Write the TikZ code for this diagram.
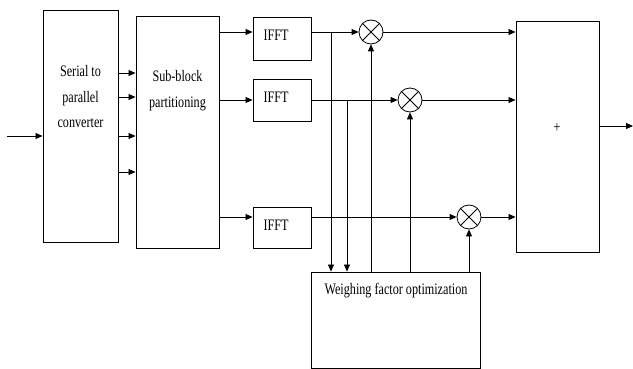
\documentclass[tikz,border=0pt]{standalone}
\usepackage{fontspec}
\setmainfont[FakeStretch=0.76]{Liberation Serif}
\usetikzlibrary{arrows.meta}
\begin{document}
\begin{tikzpicture}[x=1pt,y=-1pt,
  every node/.style={font=\fontsize{16}{25.5}\selectfont},
  box/.style={draw, line width=0.9pt, inner sep=0pt},
  mult/.style={draw, circle, line width=0.8pt, minimum size=24pt, inner sep=0pt},
  conn/.style={line width=0.8pt},
  arr/.style={conn, -{Triangle[length=7pt,width=6pt]}},
  txt/.style={inner sep=0pt, align=center}]
\useasboundingbox (0,0) rectangle (633,369);
% blocks
\node[box, minimum width=75pt, minimum height=232pt] (sp) at (80.5,126) {};
\node[txt] at (80.5,97) {Serial to\\parallel\\converter};
\node[box, minimum width=83pt, minimum height=232pt] (sb) at (177.5,132) {};
\node[txt] at (177.5,90.5) {Sub-block\\partitioning};
\node[box, minimum width=58pt, minimum height=43pt] (f1) at (282,38.5) {};
\node[box, minimum width=58pt, minimum height=42pt] (f2) at (282,100) {};
\node[box, minimum width=58pt, minimum height=41pt] (f3) at (282,227.5) {};
\node[txt] at (276,35) {IFFT};
\node[txt] at (276,97) {IFFT};
\node[txt] at (276,225) {IFFT};
\node[mult] (m1) at (371,32) {};
\node[mult] (m2) at (410,100) {};
\node[mult] (m3) at (469,217) {};
\foreach \m in {m1,m2,m3}{
  \draw[conn] (\m.north west) -- (\m.south east);
  \draw[conn] (\m.north east) -- (\m.south west);
}
\node[box, minimum width=83pt, minimum height=231pt] (pl) at (557.5,136.5) {};
\node[txt] at (557,128) {+};
\node[box, minimum width=169pt, minimum height=96pt] (wf) at (395.5,320) {};
\node[txt] at (396,291) {Weighing factor optimization};
% input / output
\coordinate (in) at (7,136);
\coordinate (out) at (633,126);
\draw[arr] (in) -- (sp.west |- in);
\draw[arr] (pl.east |- out) -- (out);
% S/P to sub-block
\foreach \y in {73,97,136,172}
  \draw[arr] (sp.east |- 0,\y) -- (sb.west |- 0,\y);
% sub-block to IFFT
\draw[arr] (sb.east |- m1) -- (f1.west |- m1);
\draw[arr] (sb.east |- m2) -- (f2.west |- m2);
\draw[arr] (sb.east |- m3) -- (f3.west |- m3);
% IFFT to multipliers
\draw[arr] (f1.east |- m1) -- (m1.west);
\draw[arr] (f2.east |- m2) -- (m2.west);
\draw[arr] (f3.east |- m3) -- (m3.west);
% multipliers to adder
\draw[arr] (m1.east) -- (pl.west |- m1);
\draw[arr] (m2.east) -- (pl.west |- m2);
\draw[arr] (m3.east) -- (pl.west |- m3);
% taps to weighing block
\coordinate (t1) at (331,32);
\coordinate (t2) at (347,100);
\draw[arr] (t1) -- (t1 |- wf.north);
\draw[arr] (t2) -- (t2 |- wf.north);
% weighing block to multipliers
\draw[arr] (wf.north -| m1) -- (m1.south);
\draw[arr] (wf.north -| m2) -- (m2.south);
\draw[arr] (wf.north -| m3) -- (m3.south);
\end{tikzpicture}
\end{document}
